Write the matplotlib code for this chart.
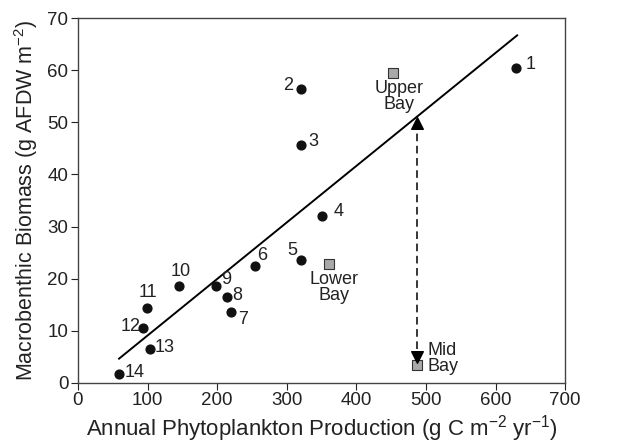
import matplotlib
matplotlib.use("Agg")
import matplotlib.pyplot as plt
import numpy as np

plt.rcParams['font.family'] = ['Liberation Sans', 'DejaVu Sans']
plt.rcParams['mathtext.fontset'] = 'custom'
plt.rcParams['mathtext.rm'] = 'Liberation Sans'
plt.rcParams['mathtext.it'] = 'Liberation Sans'
plt.rcParams['mathtext.default'] = 'regular'

# data
site_labels = ['1', '2', '3', '4', '5', '6', '7', '8', '9', '10', '11', '12', '13', '14']
production = [629, 321, 321, 350, 320, 254, 220, 214, 199, 145, 99, 93, 103, 59]
biomass = [60.5, 56.5, 45.7, 32.0, 23.6, 22.5, 13.6, 16.4, 18.5, 18.5, 14.4, 10.5, 6.5, 1.6]

bay_labels = ['Upper\nBay', 'Lower\nBay', 'Mid\nBay']
bay_production = [453, 360, 487]
bay_biomass = [59.5, 22.7, 3.3]

fit_slope = 0.1086
fit_intercept = -1.8
fit_x = [59, 631]

xticks = [0, 100, 200, 300, 400, 500, 600, 700]
yticks = [0, 10, 20, 30, 40, 50, 60, 70]

fig = plt.figure(figsize=(6.19, 4.47), dpi=100)
ax = fig.add_axes([0.126, 0.144, 0.787, 0.815])

fx = np.array(fit_x)
ax.plot(fx, fit_slope * fx + fit_intercept, color='black', lw=1.4, zorder=2)

ax.scatter(production, biomass, s=40, color='#111111', zorder=3)
ax.scatter(bay_production, bay_biomass, s=48, marker='s', color='#a9a9a9',
           edgecolors='#333333', linewidths=0.8, zorder=3)

LFS = 13
# offsets in pixels and alignment for site labels
offs = {
    '1': (10, 3, 'left'), '2': (-8, 3, 'right'), '3': (7, 3, 'left'),
    '4': (12, 5, 'left'), '5': (-3, 9, 'right'), '6': (2, 10, 'left'),
    '7': (7, -8, 'left'), '8': (5, 2, 'left'), '9': (5, 7, 'left'),
    '10': (2, 15, 'center'), '11': (1, 15, 'center'), '12': (-2, 1, 'right'),
    '13': (5, 1, 'left'), '14': (6, 2, 'left'),
}
for lab, x, y in zip(site_labels, production, biomass):
    dx, dy, ha = offs[lab]
    ax.annotate(lab, (x, y), xytext=(dx, dy), textcoords='offset pixels',
                ha=ha, va='center', fontsize=LFS, color='#222222')

bay_offs = [(6, -7, 'center', 'top'), (5, -7, 'center', 'top'), (11, 7, 'left', 'center')]
for lab, x, y, (dx, dy, ha, va) in zip(bay_labels, bay_production, bay_biomass, bay_offs):
    ax.annotate(lab, (x, y), xytext=(dx, dy), textcoords='offset pixels',
                ha=ha, va=va, fontsize=LFS, color='#222222', linespacing=0.9,
                multialignment='center' if ha == 'center' else 'left')

# dashed double arrow from Mid Bay to line
ax_x = bay_production[2]
y_top = fit_slope * ax_x + fit_intercept - 1.2
y_bot = 5.0
ax.plot([ax_x, ax_x], [y_bot + 1.5, y_top - 1.5], color='black', lw=1.1,
        dashes=(5, 3), zorder=2)
ax.scatter([ax_x], [y_top], marker='^', s=70, color='black', zorder=4)
ax.scatter([ax_x], [y_bot], marker='v', s=70, color='black', zorder=4)

ax.set_xlim(0, 700)
ax.set_ylim(0, 70)
ax.set_xticks(xticks)
ax.set_yticks(yticks)
ax.tick_params(direction='out', length=5, labelsize=13.5, colors='#222222', pad=2)
for sp in ax.spines.values():
    sp.set_color('#444444')
    sp.set_linewidth(1.0)

ax.set_xlabel('Annual Phytoplankton Production (g C m$^{-2}$ yr$^{-1}$)', fontsize=16,
              color='#222222', labelpad=3)
ax.set_ylabel('Macrobenthic Biomass (g AFDW m$^{-2}$)', fontsize=15.5,
              color='#222222', labelpad=5)

fig.savefig('out.png', dpi=100)
